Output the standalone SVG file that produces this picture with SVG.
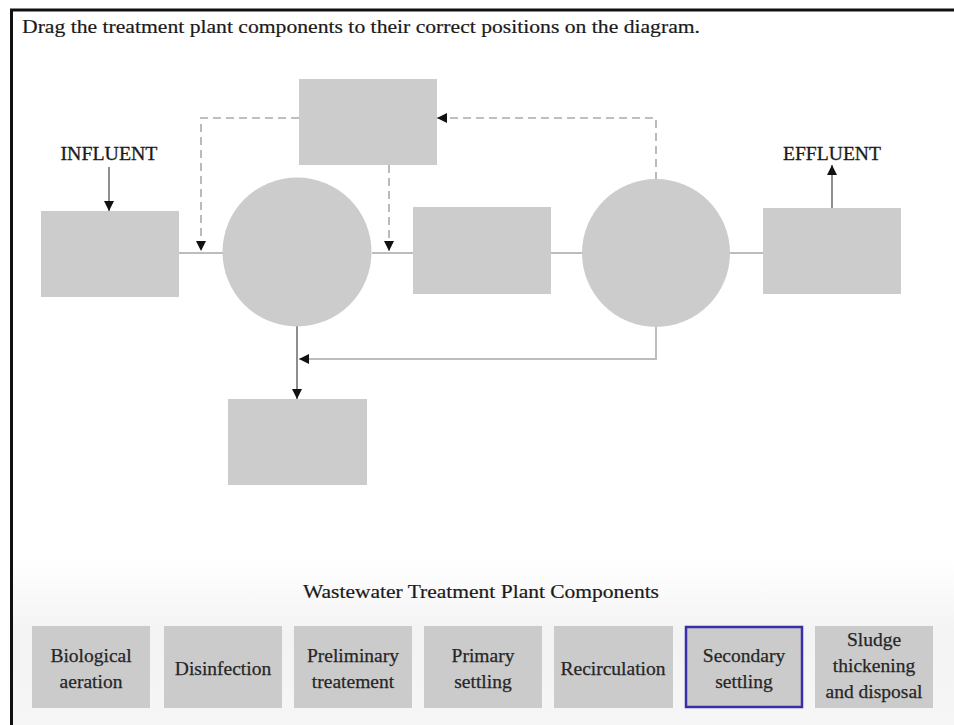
<svg xmlns="http://www.w3.org/2000/svg" width="954" height="725" viewBox="0 0 954 725">
<defs>
<style>
.box{fill:#cccccc}
.t{font-family:"Liberation Serif","Times New Roman",serif;fill:#1a1a1a}
.lbl{font-family:"Liberation Serif","Times New Roman",serif;fill:#262626;font-size:19.5px;text-anchor:middle;stroke:#262626;stroke-width:0.25}
.pipe{stroke:#bdbdbd;stroke-width:2;fill:none}
.dash{stroke:#aaaaaa;stroke-width:1.6;fill:none;stroke-dasharray:8,5}
.blk{stroke:#444;stroke-width:1.2;fill:none}
.pal{fill:#cbcbcb}
</style>
<marker id="ah" viewBox="0 0 10 10" refX="10" refY="5" markerWidth="12" markerHeight="10" markerUnits="userSpaceOnUse" orient="auto">
<path d="M0,0 L10,5 L0,10 z" fill="#111"/>
</marker>
<marker id="ahL" viewBox="0 0 10 10" refX="10" refY="5" markerWidth="13" markerHeight="10" markerUnits="userSpaceOnUse" orient="auto">
<path d="M0,0 L10,5 L0,10 z" fill="#111"/>
</marker>
<linearGradient id="bg" x1="0" y1="0" x2="0" y2="1">
<stop offset="0" stop-color="#ffffff"/>
<stop offset="0.45" stop-color="#f3f3f3"/>
<stop offset="1" stop-color="#f6f6f6"/>
</linearGradient>
</defs>
<rect x="0" y="0" width="954" height="725" fill="#ffffff"/>
<rect x="12" y="560" width="942" height="165" fill="url(#bg)"/>
<path d="M11.5,725 V10 H954" stroke="#111" stroke-width="3" fill="none"/>
<text class="t" x="22" y="33" font-size="19.5" stroke="#1a1a1a" stroke-width="0.2" textLength="678" lengthAdjust="spacingAndGlyphs">Drag the treatment plant components to their correct positions on the diagram.</text>

<g id="connectors">
<line class="pipe" x1="179" y1="253" x2="223" y2="253"/>
<line class="pipe" x1="372" y1="253" x2="413" y2="253"/>
<line class="pipe" x1="551" y1="253" x2="582" y2="253"/>
<line class="pipe" x1="730" y1="253" x2="763" y2="253"/>
<path class="dash" d="M299,118 H201 V251" marker-end="url(#ah)"/>
<path class="dash" d="M389,165 V251" marker-end="url(#ah)"/>
<path class="dash" d="M656,180 V118 H437" marker-end="url(#ahL)"/>
<path class="pipe" d="M656,327 V359 H299" marker-end="url(#ahL)"/>
<path class="blk" d="M297,326 V399" stroke="#777" marker-end="url(#ah)"/>
<path class="blk" d="M109,167 V211" marker-end="url(#ah)"/>
<path class="blk" d="M832,208 V165" marker-end="url(#ah)"/>
</g>

<g id="influent"><text class="t" x="109" y="160" font-size="19" stroke="#1a1a1a" stroke-width="0.3" text-anchor="middle" textLength="97" lengthAdjust="spacingAndGlyphs">INFLUENT</text></g>
<g id="effluent"><text class="t" x="832" y="160" font-size="19" stroke="#1a1a1a" stroke-width="0.3" text-anchor="middle" textLength="98" lengthAdjust="spacingAndGlyphs">EFFLUENT</text></g>

<g id="slot-preliminary"><rect class="box" x="41" y="211" width="138" height="86"/></g>
<g id="slot-recirculation"><rect class="box" x="299" y="79" width="138" height="86"/></g>
<g id="slot-primary"><circle class="box" cx="297" cy="252" r="74.5"/></g>
<g id="slot-aeration"><rect class="box" x="413" y="207" width="138" height="87"/></g>
<g id="slot-secondary"><circle class="box" cx="656" cy="253" r="74"/></g>
<g id="slot-disinfection"><rect class="box" x="763" y="208" width="138" height="86"/></g>
<g id="slot-sludge"><rect class="box" x="228" y="399" width="139" height="86"/></g>

<text class="t" x="481" y="598" font-size="19" stroke="#1a1a1a" stroke-width="0.2" text-anchor="middle" textLength="356" lengthAdjust="spacingAndGlyphs">Wastewater Treatment Plant Components</text>

<g id="c-biological"><rect class="pal" x="32" y="626" width="118" height="82"/><text class="lbl"><tspan x="91" y="662">Biological</tspan><tspan x="91" y="688">aeration</tspan></text></g>
<g id="c-disinfection"><rect class="pal" x="164" y="626" width="118" height="82"/><text class="lbl" x="223" y="675">Disinfection</text></g>
<g id="c-preliminary"><rect class="pal" x="294" y="626" width="118" height="82"/><text class="lbl"><tspan x="353" y="662">Preliminary</tspan><tspan x="353" y="688">treatement</tspan></text></g>
<g id="c-primary"><rect class="pal" x="424" y="626" width="118" height="82"/><text class="lbl"><tspan x="483" y="662">Primary</tspan><tspan x="483" y="688">settling</tspan></text></g>
<g id="c-recirculation"><rect class="pal" x="554" y="626" width="119" height="82"/><text class="lbl" x="613" y="675">Recirculation</text></g>
<g id="c-secondary"><rect class="pal" x="686" y="627" width="116" height="80" stroke="#3a2fa8" stroke-width="2.5"/><text class="lbl"><tspan x="744" y="662">Secondary</tspan><tspan x="744" y="688">settling</tspan></text></g>
<g id="c-sludge"><rect class="pal" x="815" y="626" width="118" height="82"/><text class="lbl"><tspan x="874" y="646">Sludge</tspan><tspan x="874" y="672">thickening</tspan><tspan x="874" y="698">and disposal</tspan></text></g>
</svg>
